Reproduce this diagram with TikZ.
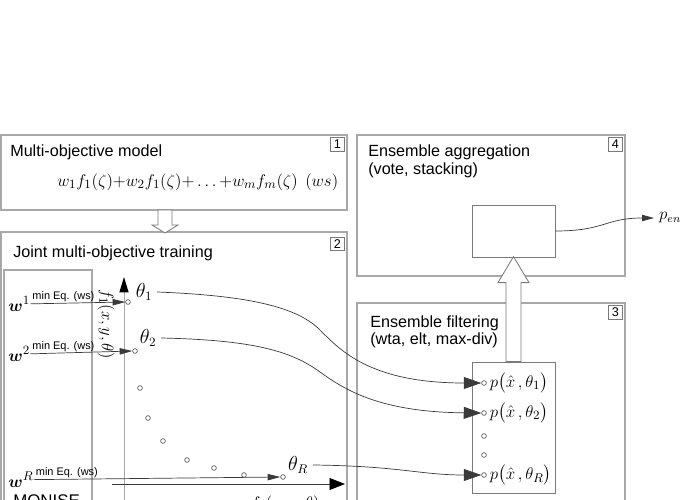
\documentclass[tikz,border=0pt]{standalone}
\usepackage{amsmath, bm}
\usepackage{fontspec}
\setmainfont{Liberation Sans}
\usepackage{xcolor}
\definecolor{xframe}{HTML}{A8A8A8}
\definecolor{xinner}{HTML}{7A7A7A}
\definecolor{xline}{HTML}{3A3A3A}
\usepackage{tikz}
\usetikzlibrary{arrows.meta, fit, positioning}
\tikzset{
  %% Styles %%
  panel/.style = {draw=xframe, line width=0.8pt, inner sep=0pt},
  innerbox/.style = {draw=xinner, line width=0.6pt, inner sep=0pt},
  tag/.style = {draw=xinner, line width=0.5pt, inner sep=0pt,
    minimum width=10pt, minimum height=9.5pt, font=\fontsize{9}{9}\selectfont},
  title/.style = {anchor=north west, inner sep=0pt, align=left,
    font=\fontsize{11.5}{12.8}\selectfont},
  dot/.style = {circle, draw=xline, fill=white, line width=0.4pt,
    inner sep=0pt, minimum size=3.4pt},
  wlabel/.style = {anchor=base west, inner sep=0pt, font=\fontsize{12.5}{12.5}\selectfont},
  minlabel/.style = {anchor=south west, inner sep=1.3pt, font=\fontsize{7.8}{8}\selectfont},
  thlabel/.style = {font=\fontsize{13.5}{13.5}\selectfont},
  plabel/.style = {right=2pt of #1, inner sep=0pt, font=\fontsize{12.5}{12.5}\selectfont},
  link/.style = {draw=xline, line width=0.5pt},
  hollow/.style = {draw=xinner, fill=white, line width=0.6pt, line join=miter},
  smalltip/.style = {-{Triangle[length=9pt, width=4.5pt]}},
  bigtip/.style = {-{Triangle[length=12.5pt, width=8.5pt]}},
}

\begin{document}
\begin{tikzpicture}[x=0.025cm, y=-0.025cm]
  \useasboundingbox (0,0) rectangle (680,500);

  % Panels
  \node[panel, fit={(1,135) (347,210)}] (model) {};
  \node[panel, fit={(1,232) (347,520)}] (joint) {};
  \node[panel, fit={(357,135) (625,276)}] (aggpanel) {};
  \node[panel, fit={(357,303) (625,520)}] (filtpanel) {};
  \node[panel, fit={(4,270) (92,520)}] (monisebox) {};

  \node[tag, below left=2pt and 2pt of model.north east] (tag1) {1};
  \node[tag, below left=4pt and 2pt of joint.north east] (tag2) {2};
  \node[tag, below left=2pt and 2pt of aggpanel.north east] (tag4) {4};
  \node[tag, below left=2pt and 2pt of filtpanel.north east] (tag3) {3};

  % Titles
  \node[title] (modeltitle) at (10,145) {Multi-objective model};
  \node[anchor=base west, inner sep=0pt, font=\fontsize{13}{13}\selectfont] (wsum) at (57,186)
    {$w_1f_1(\zeta){+}w_2f_1(\zeta){+}\ldots{+}w_mf_m(\zeta)$};
  \node[anchor=base west, inner sep=0pt, font=\fontsize{13}{13}\selectfont] (wstag) at (305,186) {$(ws)$};
  \node[title] (jointtitle) at (13,246) {Joint multi-objective training};
  \node[title] (aggtitle) at (368,145) {Ensemble aggregation\\(vote, stacking)};
  \node[title] (filttitle) at (370,315) {Ensemble filtering\\(wta, elt, max-div)};
  \node[title, font=\fontsize{12}{12}\selectfont] (monise) at (13,494) {MONISE};

  % Objective space
  \coordinate (vtop) at (124,277);
  \coordinate (vbot) at (124,505);
  \coordinate (hleft) at (112,484);
  \coordinate (hright) at (345,484);
  \draw[draw=xframe, line width=0.7pt, -{Triangle[length=11pt, width=6.5pt, color=black]}] (vbot) -- (vtop);
  \draw[link, -{Triangle[length=11pt, width=8.5pt, color=black]}] (hleft) -- (hright);
  \node[rotate=-90, font=\fontsize{13}{13}\selectfont] (f1lab) at (106,324) {$f_1(x, y, \theta)$};
  \node[anchor=north, font=\fontsize{13}{13}\selectfont] (f2lab) at (285,491) {$f_2(x, y, \theta)$};

  \foreach \x/\y [count=\k] in {128/302, 135/351, 140/388, 148/418, 163/441, 187/460, 214/468, 244/475, 283/477}
    \node[dot] (s\k) at (\x,\y) {};

  \node[wlabel] (w1) at (8,311) {$\bm{w}^1$};
  \node[wlabel] (w2) at (8,361) {$\bm{w}^2$};
  \node[wlabel] (wR) at (8,487) {$\bm{w}^R$};
  \draw[link, smalltip] (w1.east) -- (s1.west) node[minlabel, pos=0] {min Eq. (ws)};
  \draw[link, smalltip] (w2.east) -- (s2.west) node[minlabel, pos=0] {min Eq. (ws)};
  \draw[link, smalltip] (wR.east) -- (s9.west) node[minlabel, pos=0] {min Eq. (ws)};

  \node[thlabel] (th1) at (144,292) {$\theta_1$};
  \node[thlabel] (th2) at (148,338) {$\theta_2$};
  \node[thlabel] (thR) at (298,465) {$\theta_R$};

  % Filtering and aggregation
  \node[innerbox, fit={(472,205) (555,257)}] (agg) {};
  \node[innerbox, fit={(472,362) (555,493)}] (filt) {};
  \foreach \y [count=\k] in {383, 413, 436, 455, 475}
    \node[dot] (q\k) at (484,\y) {};
  \node[plabel=q1] (p1) {$p\bigl(\hat{x}\,,\theta_1\bigr)$};
  \node[plabel=q2] (p2) {$p\bigl(\hat{x}\,,\theta_2\bigr)$};
  \node[plabel=q5] (pR) {$p\bigl(\hat{x}\,,\theta_R\bigr)$};

  \draw[link, bigtip] (th1.east) .. controls (260,296) and (300,310) .. (320,330)
    .. controls (340,350) and (370,383) .. (q1.west);
  \draw[link, bigtip] (th2.east) .. controls (250,340) and (290,350) .. (320,372)
    .. controls (345,390) and (380,412) .. (q2.west);
  \draw[link, bigtip] (thR.east) .. controls (400,466) and (420,475) .. (q5.west);

  \node[anchor=west, inner sep=0pt, inner xsep=3.5pt, font=\fontsize{12}{12}\selectfont] (pens) at (654,218) {$p_{ens}$};
  \draw[link, -{Triangle[length=8.5pt, width=4.5pt]}] (agg.east) .. controls (605,231) and (605,218) .. (pens.west);

  % Hollow arrows
  \coordinate (down) at (165,210);
  \draw[hollow] (down) ++(-7,0) -- ++(0,15) -- ++(-6,0) -- ++(13,8) -- ++(13,-8) -- ++(-6,0) -- ++(0,-15) -- cycle;
  \draw[hollow] (filt.north) ++(-7.5,0) -- ++(0,-79) -- ++(-8,0) -- ++(15.5,-26) -- ++(15.5,26) -- ++(-8,0) -- ++(0,79) -- cycle;
\end{tikzpicture}
\end{document}
